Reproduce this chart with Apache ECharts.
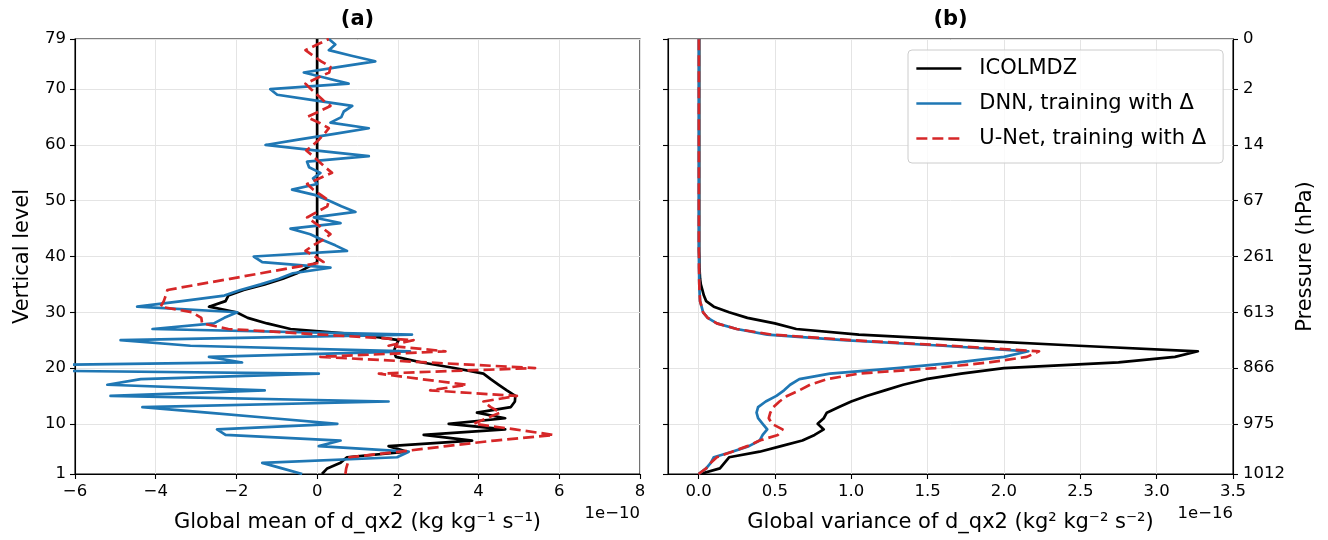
<!DOCTYPE html>
<html>
<head>
<meta charset="utf-8">
<script src="https://cdn.jsdelivr.net/npm/echarts@6/dist/echarts.min.js"></script>
<style>html,body{margin:0;padding:0;background:#fff}#c{width:1328px;height:540px}</style>
</head>
<body>
<div id="c"></div>
<script>
// ---------- data ----------
const levels = [1,2,3,4,5,6,7,8,9,10,11,12,13,14,15,16,17,18,19,20,21,22,23,24,25,26,27,28,29,30,31,32,33,34,35,36,37,38,39,40,41,42,43,44,45,46,47,48,49,50,51,52,53,54,55,56,57,58,59,60,61,62,63,64,65,66,67,68,69,70,71,72,73,74,75,76,77,78,79];
const levelTicks = [1,10,20,30,40,50,60,70,79];
const pressureLabels = ['1012','975','866','613','261','67','14','2','0'];
const varTicks = [0,0.5,1,1.5,2,2.5,3,3.5];
const seriesNames = ['ICOLMDZ','DNN, training with \u0394','U-Net, training with \u0394'];

// panel (a): global mean (x 1e-10)
const meanIcolmdz = [0.12,0.25,0.58,0.74,2.23,1.77,3.84,2.64,4.66,3.26,
  4.66,3.96,4.8,4.9,4.91,4.7,4.5,4.3,4.12,3.4,
  2.6,1.95,1.9,1.95,2.02,1.07,-0.66,-1.24,-1.72,-2.0,
  -2.68,-2.27,-2.2,-1.82,-1.3,-0.85,-0.5,-0.25,0,0,
  0,0,0,0,0,0,0,0,0,0,
  0,0,0,0,0,0,0,0,0,0,
  0,0,0,0,0,0,0,0,0,0,
  0,0,0,0,0,0,0,0,0];
const meanDnn = [-0.37,-0.87,-1.36,1.98,2.27,0.04,0.58,-2.27,-2.48,0.5,
  -1.1,-2.72,-4.33,1.77,-5.12,-1.3,-5.2,-4.37,0.04,-13,
  -1.86,-2.68,2.3,-3.14,-4.87,2.35,-4.08,-2.56,-2.3,-1.98,
  -4.46,-3.35,-2.3,-1.9,-1.4,-0.95,-0.6,0.33,-1.36,-1.57,
  0.74,0.45,0.12,-0.17,-0.66,0.58,-0.08,0.95,0.6,0.3,
  -0.04,-0.62,0.0,-0.1,0.08,-0.2,-0.25,1.28,0.0,-1.28,
  -0.43,0.43,1.28,0.33,0.6,0.66,0.87,-0.06,-0.99,-1.16,
  0.78,0.22,-0.33,0.55,1.44,0.85,0.29,0.45,0.29];
const meanUnet = [0.7,0.72,0.76,0.8,2.05,3.2,4.4,5.86,4.9,3.88,
  4.2,4.54,4.3,4.12,4.95,2.8,3.71,2.6,1.53,5.4,
  2.75,0.08,3.18,1.77,2.39,0.1,-2.2,-2.85,-2.87,-3.1,
  -3.88,-3.8,-3.75,-3.71,-2.94,-2.16,-1.39,-0.61,0.16,-0.05,
  -0.29,-0.1,0.15,0.33,0.15,-0.05,-0.25,0.0,0.25,0.29,
  0.1,-0.1,-0.25,0.05,0.37,0.2,0.05,-0.1,-0.27,-0.1,
  0.05,0.18,0.29,0.05,-0.25,0.05,0.33,0.15,0.0,-0.15,
  -0.29,0.0,0.3,0.33,0.1,-0.1,-0.29,0.0,0.29];

// panel (b): global variance (x 1e-16)
const varIcolmdz = [0.01,0.14,0.17,0.2,0.4,0.54,0.68,0.76,0.82,0.78,
  0.82,0.84,0.92,1.0,1.1,1.22,1.34,1.49,1.72,2.0,
  2.75,3.12,3.27,2.49,1.75,1.05,0.64,0.5,0.32,0.2,
  0.1,0.05,0.035,0.025,0.015,0.01,0.008,0.006,0.005,0.005,
  0.004,0.004,0.004,0.004,0.004,0.004,0.004,0.004,0.004,0.004,
  0.004,0.004,0.004,0.004,0.004,0.004,0.004,0.004,0.004,0.004,
  0.004,0.004,0.004,0.004,0.004,0.004,0.004,0.004,0.004,0.004,
  0.004,0.004,0.004,0.004,0.004,0.004,0.004,0.004,0.004];
const varDnn = [0.0,0.05,0.08,0.1,0.22,0.33,0.4,0.42,0.45,0.42,
  0.39,0.38,0.39,0.44,0.51,0.56,0.6,0.66,0.86,1.3,
  1.7,2.0,2.16,1.6,0.95,0.45,0.25,0.12,0.06,0.03,
  0.02,0.01,0.008,0.006,0.005,0.004,0.004,0.003,0.003,0.003,
  0.002,0.002,0.002,0.002,0.002,0.002,0.002,0.002,0.002,0.002,
  0.002,0.002,0.002,0.002,0.002,0.002,0.002,0.002,0.002,0.002,
  0.002,0.002,0.002,0.002,0.002,0.002,0.002,0.002,0.002,0.002,
  0.002,0.002,0.002,0.002,0.002,0.002,0.002,0.002,0.002];
const varUnet = [0.0,0.05,0.08,0.12,0.22,0.32,0.4,0.52,0.55,0.48,
  0.46,0.47,0.49,0.53,0.58,0.66,0.73,0.84,1.05,1.55,
  1.9,2.15,2.23,1.65,1.0,0.48,0.25,0.12,0.06,0.03,
  0.02,0.01,0.008,0.006,0.005,0.004,0.004,0.003,0.003,0.003,
  0.002,0.002,0.002,0.002,0.002,0.002,0.002,0.002,0.002,0.002,
  0.002,0.002,0.002,0.002,0.002,0.002,0.002,0.002,0.002,0.002,
  0.002,0.002,0.002,0.002,0.002,0.002,0.002,0.002,0.002,0.002,
  0.002,0.002,0.002,0.002,0.002,0.002,0.002,0.002,0.002];

// ---------- chart ----------
const FONT = 'DejaVu Sans';
const AX = '#000000';
const GRIDC = '#e4e4e4';
const COLORS = ['#000000', '#1f77b4', '#d62728'];
const minus = v => String(v).replace('-', '\u2212');
const pts = xs => levels.map((lv, i) => [xs[i], lv]);

function axLine() { return {show: true, onZero: false, lineStyle: {color: AX, width: 1.1}}; }
function axTick(custom) {
  const t = {show: true, inside: false, length: 5, lineStyle: {color: AX, width: 1.1}};
  if (custom) t.customValues = custom;
  return t;
}
function axLabel(extra) {
  return Object.assign({color: '#000', fontSize: 16.5, fontFamily: FONT}, extra);
}
const split = {show: true, lineStyle: {color: GRIDC, width: 1}};
const nameStyle = {fontSize: 21, color: '#000', fontFamily: FONT};

function lineSeries(k, xi, yi, values) {
  return {
    name: seriesNames[k], type: 'line', xAxisIndex: xi, yAxisIndex: yi,
    data: pts(values), symbol: 'none', showSymbol: false, clip: true, silent: true,
    lineStyle: {color: COLORS[k], width: 2.7, type: k === 2 ? [11, 5] : 'solid', cap: 'butt', join: 'round'},
    itemStyle: {color: COLORS[k]},
    z: 2 + k
  };
}

const legendData = seriesNames.map((n, k) => ({
  name: n,
  lineStyle: {color: COLORS[k], width: 2.7, type: k === 2 ? [11, 5] : 'solid', cap: 'butt'}
}));

const option = {
  animation: false,
  textStyle: {fontFamily: FONT},
  grid: [
    {left: 75, top: 39, width: 565, height: 435, show: true, borderColor: AX, borderWidth: 1.1, backgroundColor: 'transparent', containLabel: false},
    {left: 668, top: 39, width: 565, height: 435, show: true, borderColor: AX, borderWidth: 1.1, backgroundColor: 'transparent', containLabel: false}
  ],
  xAxis: [
    {gridIndex: 0, type: 'value', min: -6, max: 8, interval: 2,
     axisLine: axLine(), axisTick: axTick(), axisLabel: axLabel({margin: 9, formatter: v => minus(v)}),
     splitLine: split,
     name: 'Global mean of d_qx2 (kg kg\u207B\u00B9 s\u207B\u00B9)', nameLocation: 'middle', nameGap: 38, nameTextStyle: nameStyle},
    {gridIndex: 1, type: 'value', min: -0.2, max: 3.5,
     axisLine: axLine(), axisTick: axTick(varTicks), axisLabel: axLabel({margin: 9, customValues: varTicks, formatter: v => Number(v).toFixed(1)}),
     splitLine: split,
     name: 'Global variance of d_qx2 (kg\u00B2 kg\u207B\u00B2 s\u207B\u00B2)', nameLocation: 'middle', nameGap: 38, nameTextStyle: nameStyle}
  ],
  yAxis: [
    {gridIndex: 0, type: 'value', min: 1, max: 79, position: 'left',
     axisLine: axLine(), axisTick: axTick(levelTicks), axisLabel: axLabel({margin: 9, customValues: levelTicks}),
     splitLine: split,
     name: 'Vertical level', nameLocation: 'middle', nameGap: 42, nameRotate: 90, nameTextStyle: nameStyle},
    {gridIndex: 1, type: 'value', min: 1, max: 79, position: 'left',
     axisLine: axLine(), axisTick: axTick(levelTicks), axisLabel: {show: false, customValues: levelTicks},
     splitLine: split},
    {gridIndex: 1, type: 'value', min: 1, max: 79, position: 'right',
     axisLine: axLine(), axisTick: axTick(levelTicks),
     axisLabel: axLabel({margin: 10, customValues: levelTicks, formatter: v => pressureLabels[levelTicks.indexOf(Math.round(v))] || ''}),
     splitLine: {show: false},
     name: 'Pressure (hPa)', nameLocation: 'middle', nameGap: 62, nameRotate: 90, nameTextStyle: nameStyle}
  ],
  legend: {
    data: legendData, orient: 'vertical', left: 908, top: 50,
    padding: [8, 17, 14, 7], itemWidth: 45, itemHeight: 14, itemGap: 14,
    itemStyle: {opacity: 0},
    textStyle: {fontSize: 21, color: '#000', fontFamily: FONT, padding: [0, 0, 0, 13]},
    backgroundColor: 'rgba(255,255,255,0.8)', borderColor: '#cccccc', borderWidth: 1, borderRadius: 4,
    selectedMode: false, z: 20
  },
  graphic: [
    {type: 'text', x: 357.5, y: 20, z: 30, style: {text: '(a)', font: 'bold 21px "DejaVu Sans"', fill: '#000', align: 'center', verticalAlign: 'middle', textAlign: 'center', textVerticalAlign: 'middle'}},
    {type: 'text', x: 950.5, y: 20, z: 30, style: {text: '(b)', font: 'bold 21px "DejaVu Sans"', fill: '#000', align: 'center', verticalAlign: 'middle', textAlign: 'center', textVerticalAlign: 'middle'}},
    {type: 'text', x: 640, y: 514, z: 30, style: {text: '1e\u221210', font: '16.5px "DejaVu Sans"', fill: '#000', align: 'right', verticalAlign: 'middle', textAlign: 'right', textVerticalAlign: 'middle'}},
    {type: 'text', x: 1233, y: 514, z: 30, style: {text: '1e\u221216', font: '16.5px "DejaVu Sans"', fill: '#000', align: 'right', verticalAlign: 'middle', textAlign: 'right', textVerticalAlign: 'middle'}}
  ],
  series: [
    lineSeries(0, 0, 0, meanIcolmdz),
    lineSeries(1, 0, 0, meanDnn),
    lineSeries(2, 0, 0, meanUnet),
    lineSeries(0, 1, 1, varIcolmdz),
    lineSeries(1, 1, 1, varDnn),
    lineSeries(2, 1, 1, varUnet)
  ]
};

const chart = echarts.init(document.getElementById('c'), null, {renderer: 'canvas', width: 1328, height: 540});
chart.setOption(option);
</script>
</body>
</html>
